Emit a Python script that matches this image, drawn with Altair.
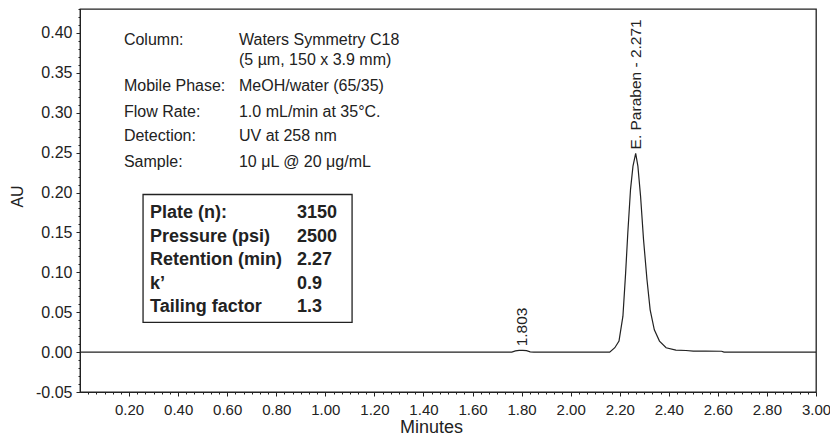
import altair as alt
import pandas as pd

# ---------------- data ----------------
time_min = [0.00, 1.760, 1.775, 1.790, 1.805, 1.820, 1.835, 1.850, 2.100, 2.159,
            2.180, 2.197, 2.213, 2.224, 2.233, 2.244, 2.254, 2.265, 2.274, 2.285,
            2.297, 2.311, 2.324, 2.341, 2.362, 2.389, 2.429, 2.470, 2.500, 2.550,
            2.615, 2.625, 3.000]
absorbance = [0.0000, 0.0000, 0.0015, 0.0022, 0.0022, 0.0018, 0.0004, 0.0000, 0.0000, 0.0000,
              0.0055, 0.0138, 0.0450, 0.0990, 0.1500, 0.2040, 0.2330, 0.2490, 0.2330, 0.1950,
              0.1410, 0.0910, 0.0530, 0.0280, 0.0138, 0.0055, 0.0025, 0.0020, 0.0012, 0.0012,
              0.0011, 0.0000, 0.0000]

x_ticks = [0.20, 0.40, 0.60, 0.80, 1.00, 1.20, 1.40, 1.60, 1.80, 2.00, 2.20, 2.40, 2.60, 2.80, 3.00]
y_ticks = [-0.05, 0.00, 0.05, 0.10, 0.15, 0.20, 0.25, 0.30, 0.35, 0.40]

method_labels = ["Column:", "", "Mobile Phase:", "Flow Rate:", "Detection:", "Sample:"]
method_values = ["Waters Symmetry C18", "(5 µm, 150 x 3.9 mm)", "MeOH/water (65/35)",
                 "1.0 mL/min at 35°C.", "UV at 258 nm", "10 μL @ 20 μg/mL"]

table_labels = ["Plate (n):", "Pressure (psi)", "Retention (min)", "k’", "Tailing factor"]
table_values = ["3150", "2500", "2.27", "0.9", "1.3"]

peak_times = [1.803, 2.268]
peak_heights = [0.0022, 0.249]
peak_names = ["1.803", "E. Paraben - 2.271"]

# ---------------- layout (in data units) ----------------
X_DOMAIN = [0, 3.0]
Y_DOMAIN = [-0.05, 0.43]
method_rows_y = [0.3917, 0.3667, 0.3340, 0.3006, 0.2706, 0.2380]
method_label_x = 0.179
method_value_x = 0.648
table_rows_y = [0.1745, 0.1445, 0.1150, 0.0855, 0.0570]
table_label_x = 0.2854
table_value_x = 0.8846
box = dict(x=0.257, x2=1.109, y=0.1975, y2=0.0372)

INK = "#222222"
FONT = "Liberation Sans"

x_minor = [i / 30 for i in range(1, 91) if i % 6 != 0]
y_minor = [i / 100 for i in range(-5, 44) if i % 5 != 0]

trace = pd.DataFrame({"t": time_min, "au": absorbance})

xs = alt.Scale(domain=X_DOMAIN, nice=False, zero=False)
ys = alt.Scale(domain=Y_DOMAIN, nice=False, zero=False)

minor_layer = alt.Chart(trace).mark_line(opacity=0).encode(
    x=alt.X("t:Q", scale=xs, axis=alt.Axis(orient="bottom", values=x_minor, labels=False, domain=False,
                                          grid=False, tickSize=2, tickColor=INK, title=None)),
    y=alt.Y("au:Q", scale=ys, axis=alt.Axis(orient="left", values=y_minor, labels=False, domain=False,
                                           grid=False, tickSize=2, tickColor=INK, title=None)),
)

line_layer = alt.Chart(trace).mark_line(color=INK, strokeWidth=1.2).encode(
    x=alt.X("t:Q", scale=xs, axis=alt.Axis(
        orient="bottom", values=x_ticks, format=".2f", tickSize=4, labelPadding=6,
        labelFontSize=15, labelColor=INK, labelFont=FONT, domainColor=INK, tickColor=INK,
        grid=False, labelFlush=False, labelOverlap=False,
        title="Minutes", titleFontSize=18, titleFontWeight="normal", titleFont=FONT, titleColor=INK,
        titleX=351, titleY=35, titleBaseline="middle")),
    y=alt.Y("au:Q", scale=ys, axis=alt.Axis(
        orient="left", values=y_ticks, tickSize=4, labelPadding=4,
        labelExpr="datum.value < 0 ? '-' + format(-datum.value, '.2f') : format(datum.value, '.2f')",
        labelFontSize=16, labelColor=INK, labelFont=FONT, domainColor=INK, tickColor=INK,
        grid=False, labelOverlap=False,
        title="AU", titleFontSize=16, titleFontWeight="normal", titleFont=FONT, titleColor=INK,
        titleX=-63, titleY=187, titleBaseline="middle")),
)

# method description text
mdf = pd.DataFrame({"lab": method_labels, "val": method_values, "y": method_rows_y,
                    "xl": [method_label_x] * 6, "xv": [method_value_x] * 6})
method_lab = alt.Chart(mdf).mark_text(align="left", baseline="middle", fontSize=16, font=FONT, color=INK).encode(
    x=alt.X("xl:Q", scale=xs, axis=None), y=alt.Y("y:Q", scale=ys, axis=None), text="lab:N")
method_val = alt.Chart(mdf).mark_text(align="left", baseline="middle", fontSize=16, font=FONT, color=INK).encode(
    x=alt.X("xv:Q", scale=xs, axis=None), y=alt.Y("y:Q", scale=ys, axis=None), text="val:N")

# boxed table
bdf = pd.DataFrame([box])
box_layer = alt.Chart(bdf).mark_rect(fill="white", stroke=INK, strokeWidth=1.3).encode(
    x=alt.X("x:Q", scale=xs, axis=None), x2="x2:Q",
    y=alt.Y("y:Q", scale=ys, axis=None), y2="y2:Q")

tdf = pd.DataFrame({"lab": table_labels, "val": table_values, "y": table_rows_y,
                    "xl": [table_label_x] * 5, "xv": [table_value_x] * 5})
table_lab = alt.Chart(tdf).mark_text(align="left", baseline="middle", fontSize=18, fontWeight="bold",
                                     font=FONT, color=INK).encode(
    x=alt.X("xl:Q", scale=xs, axis=None), y=alt.Y("y:Q", scale=ys, axis=None), text="lab:N")
table_val = alt.Chart(tdf).mark_text(align="left", baseline="middle", fontSize=18, fontWeight="bold",
                                     font=FONT, color=INK).encode(
    x=alt.X("xv:Q", scale=xs, axis=None), y=alt.Y("y:Q", scale=ys, axis=None), text="val:N")

# peak labels
pdf = pd.DataFrame({"t": peak_times, "h": peak_heights, "name": peak_names})
peak_lab = alt.Chart(pdf).mark_text(angle=270, align="left", baseline="middle", dx=4, fontSize=15.5,
                                    font=FONT, color=INK).encode(
    x=alt.X("t:Q", scale=xs, axis=None), y=alt.Y("h:Q", scale=ys, axis=None), text="name:N")

chart = alt.layer(
    minor_layer, line_layer, method_lab, method_val, box_layer, table_lab, table_val, peak_lab
).resolve_axis(x="independent", y="independent").properties(
    width=736, height=383,
    padding={"left": 72, "top": 1, "right": 14, "bottom": 45},
    autosize=alt.AutoSizeParams(type="none"),
    background="white",
).configure_view(stroke=INK, strokeWidth=1.3)

chart.save("out.html", embed_options={"renderer": "svg", "actions": False})
